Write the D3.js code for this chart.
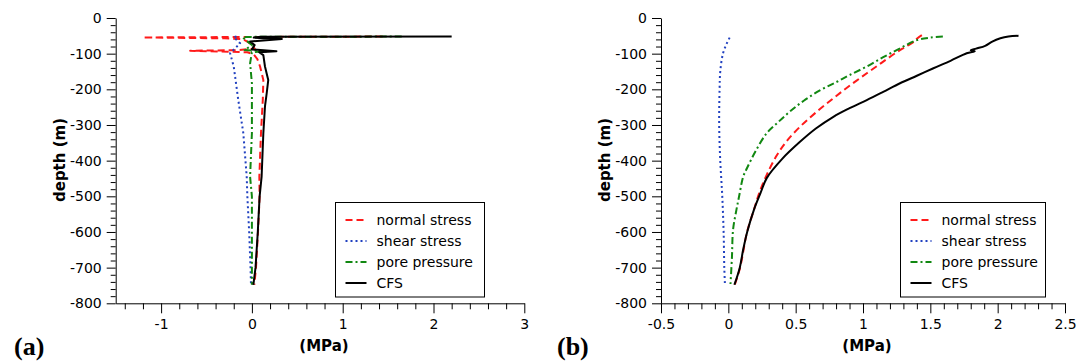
<!DOCTYPE html>
<html><head><meta charset="utf-8">
<script src="https://cdn.jsdelivr.net/npm/d3@7"></script>
<style>body{margin:0;background:#fff}svg{display:block}</style>
</head><body><svg id="c" width="1087" height="363"></svg>
<script>
// ---------- data ----------
const seriesNames = ["normal stress","shear stress","pore pressure","CFS"];
const yMajorTicks = [0,-100,-200,-300,-400,-500,-600,-700,-800];
const xMajorTicksA = [-1,0,1,2,3];
const xMajorTicksB = [-0.5,0,0.5,1,1.5,2,2.5];
const xTickLabelsB = ["-0.5","0","0.5","1","1.5","2","2.5"];

// panel (a): [MPa, depth m]
const aNormal = [[1.44,-52],[0.2,-53],[-1.2,-54.5],[-0.3,-57],[-0.1,-59.5],[-0.05,-66],[0.0,-76],[0.03,-86],[-0.15,-90],[-0.68,-92],[-0.05,-96],[0.02,-102],[0.06,-115],[0.09,-136],[0.126,-174],[0.12,-230],[0.1,-323],[0.082,-445],[0.085,-500],[0.067,-600],[0.045,-700],[0.027,-748]];
const aShear = [[-0.17,-52],[-0.2,-54],[-0.13,-71],[-0.24,-99],[-0.2,-136],[-0.15,-230],[-0.095,-322],[-0.057,-445],[-0.05,-500],[-0.03,-600],[-0.015,-700],[-0.01,-748]];
const aPore = [[1.65,-52],[-0.1,-53],[-0.09,-57],[0.0,-76],[-0.08,-90],[0.18,-93],[0.0,-96],[-0.02,-127],[0.0,-183],[0.0,-323],[-0.02,-445],[0.0,-500],[0.0,-600],[0.0,-748]];
const aCFS = [[2.2,-52],[0.1,-52.5],[0.02,-55],[0.33,-59],[-0.02,-66],[0.03,-76],[0.0,-88],[0.27,-93],[0.08,-96],[0.126,-104],[0.144,-136],[0.18,-174],[0.163,-211],[0.144,-248],[0.126,-323],[0.107,-445],[0.085,-500],[0.065,-600],[0.04,-700],[0.016,-748]];

// panel (b)
const bNormal = [[1.437,-48],[1.40,-58],[1.387,-64],[1.32,-80],[1.25,-96],[1.14,-125],[1.028,-155],[0.9,-190],[0.78,-225],[0.65,-265],[0.532,-305],[0.434,-345],[0.36,-385],[0.285,-440],[0.23,-490],[0.19,-538],[0.139,-600],[0.087,-700],[0.048,-748]];
const bShear = [[0.01,-55],[-0.01,-70],[-0.04,-100],[-0.06,-150],[-0.065,-200],[-0.068,-300],[-0.06,-400],[-0.045,-500],[-0.035,-600],[-0.03,-700],[-0.025,-750]];
const bPore = [[1.593,-52],[1.50,-55],[1.40,-62],[1.275,-85],[1.15,-110],[1.028,-136],[0.9,-160],[0.8,-180],[0.68,-203],[0.56,-232],[0.458,-262],[0.37,-292],[0.285,-323],[0.2,-375],[0.14,-420],[0.111,-444],[0.08,-500],[0.06,-538],[0.035,-594],[0.027,-669],[0.016,-746]];
const bCFS = [[2.155,-50],[2.08,-52],[2.02,-57],[1.96,-66],[1.907,-78],[1.84,-86],[1.80,-91],[1.83,-93],[1.77,-99],[1.65,-120],[1.523,-141],[1.4,-162],[1.275,-183],[1.15,-207],[1.028,-230],[0.9,-253],[0.78,-277],[0.65,-310],[0.53,-348],[0.40,-395],[0.285,-449],[0.24,-490],[0.19,-538],[0.14,-600],[0.11,-650],[0.085,-700],[0.045,-748]];

// ---------- styles ----------
const styles = [
  {color:"#ff1a1a", dash:"7,4"},
  {color:"#2040c0", dash:"2,3"},
  {color:"#118811", dash:"7,3,2,3"},
  {color:"#000000", dash:null}
];

const svg = d3.select("#c");

function panel(o){
  const g = svg.append("g");
  const x = d3.scaleLinear().domain(o.xDomain).range(o.xRange);
  const y = d3.scaleLinear().domain([0,-800]).range([18,303.3]);

  // y axis
  g.append("g").attr("transform",`translate(${o.xRange[0]},0)`)
    .call(d3.axisLeft(y).tickValues(d3.range(0,-801,-20).filter(v=>v%100!==0)).tickSize(5).tickSizeOuter(0).tickFormat(""))
    .call(s=>s.select(".domain").remove());
  g.append("g").attr("transform",`translate(${o.xRange[0]},0)`)
    .call(d3.axisLeft(y).tickValues(yMajorTicks).tickSize(9).tickSizeOuter(0).tickPadding(5).tickFormat(d=>d))
    .call(s=>s.selectAll("text").attr("font-size",14).style("font-family","DejaVu Sans").attr("fill","#000"));

  // x axis
  const yB = y(-800);
  g.append("g").attr("transform",`translate(0,${yB})`)
    .call(d3.axisBottom(x).tickValues(o.minor).tickSize(6).tickSizeOuter(0).tickFormat(""))
    .call(s=>s.select(".domain").remove());
  g.append("g").attr("transform",`translate(0,${yB})`)
    .call(d3.axisBottom(x).tickValues(o.major).tickSize(10).tickSizeOuter(0).tickPadding(6).tickFormat((d,i)=>o.labels[i]))
    .call(s=>s.selectAll("text").attr("font-size",14).style("font-family","DejaVu Sans").attr("fill","#000"));

  // titles
  g.append("text").attr("x",(o.xRange[0]+o.xRange[1])/2+4).attr("y",351)
    .attr("text-anchor","middle").style("font-family","DejaVu Sans").attr("font-size",15).attr("font-weight","bold").text("(MPa)");
  g.append("text").attr("transform",`translate(${o.xRange[0]-51},160) rotate(-90)`)
    .attr("text-anchor","middle").style("font-family","DejaVu Sans").attr("font-size",15).attr("font-weight","bold").text("depth (m)");
  g.append("text").attr("x",o.tag[0]).attr("y",o.tag[1])
    .style("font-family","'Liberation Serif', serif").attr("font-weight","bold").attr("font-size",26).text(o.tagText);

  // lines
  const line = d3.line().x(d=>x(d[0])).y(d=>y(d[1])).curve(o.curve);
  o.series.forEach((s,i)=>{
    g.append("path").datum(s).attr("d",line).attr("fill","none")
      .attr("stroke",styles[i].color).attr("stroke-width",2)
      .attr("stroke-dasharray",styles[i].dash).attr("stroke-linejoin","round");
  });

  // legend
  const L = o.legend;
  g.append("rect").attr("x",L[0]).attr("y",202.5).attr("width",L[1]-L[0]).attr("height",94.5)
    .attr("fill","#fff").attr("stroke","#000").attr("stroke-width",1);
  seriesNames.forEach((n,i)=>{
    const yy = 220 + i*21;
    g.append("line").attr("x1",L[0]+10).attr("x2",L[0]+31).attr("y1",yy).attr("y2",yy)
      .attr("stroke",styles[i].color).attr("stroke-width",2).attr("stroke-dasharray",styles[i].dash);
    g.append("text").attr("x",L[0]+41).attr("y",yy+5).style("font-family","DejaVu Sans").attr("font-size",14).text(n);
  });
}

panel({xDomain:[-1.5,3], xRange:[115.7,524.3],
  major:xMajorTicksA, labels:xMajorTicksA.map(String),
  minor:d3.range(-1.4,3.01,0.2).map(v=>+v.toFixed(1)).filter(v=>Math.abs(v-Math.round(v))>1e-6),
  series:[aNormal,aShear,aPore,aCFS], legend:[335.5,484.5], tag:[14,355], tagText:"(a)", curve:d3.curveLinear});

panel({xDomain:[-0.5,2.5], xRange:[661,1065],
  major:xMajorTicksB, labels:xTickLabelsB,
  minor:d3.range(-0.4,2.51,0.1).map(v=>+v.toFixed(1)).filter(v=>Math.abs(v*2-Math.round(v*2))>1e-6),
  series:[bNormal,bShear,bPore,bCFS], legend:[900.5,1045.5], tag:[557,355], tagText:"(b)", curve:d3.curveCatmullRom.alpha(0.5)});
</script></body></html>
